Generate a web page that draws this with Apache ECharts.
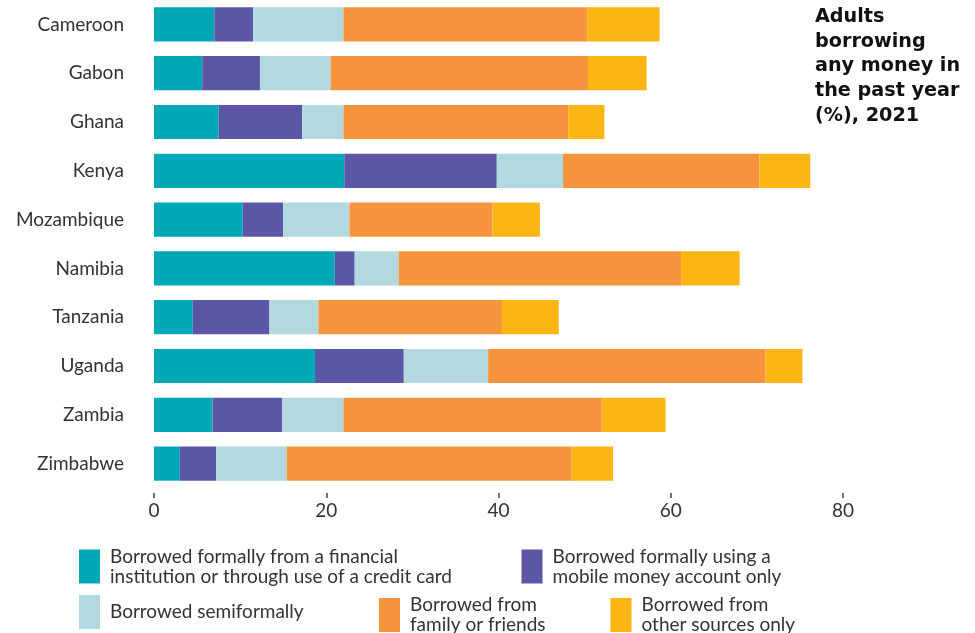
<!DOCTYPE html>
<html>
<head>
<meta charset="utf-8">
<script src="https://cdn.jsdelivr.net/npm/echarts@6/dist/echarts.min.js"></script>
<style>html,body{margin:0;padding:0;background:#fff;}#c{width:975px;height:633px;}</style>
</head>
<body>
<div id="c"></div>
<script>
const countries = ['Cameroon','Gabon','Ghana','Kenya','Mozambique','Namibia','Tanzania','Uganda','Zambia','Zimbabwe'];
const formalFinancial = [7.0, 5.6, 7.5, 22.1, 10.3, 21.0, 4.5, 18.7, 6.8, 3.0];
const formalMobile    = [4.5, 6.7, 9.7, 17.7, 4.7, 2.3, 8.9, 10.3, 8.1, 4.2];
const semiformal      = [10.5, 8.2, 4.8, 7.7, 7.7, 5.1, 5.7, 9.8, 7.1, 8.2];
const familyFriends   = [28.3, 29.9, 26.1, 22.8, 16.6, 32.8, 21.3, 32.2, 30.0, 33.1];
const otherSources    = [8.4, 6.8, 4.2, 5.9, 5.5, 6.8, 6.6, 4.3, 7.4, 4.8];
const xTicks = [0, 20, 40, 60, 80];

const seriesNames = ['Borrowed formally from a financial\ninstitution or through use of a credit card',
  'Borrowed formally using a\nmobile money account only',
  'Borrowed semiformally',
  'Borrowed from\nfamily or friends',
  'Borrowed from\nother sources only'];
const seriesData = [formalFinancial, formalMobile, semiformal, familyFriends, otherSources];
const colors = ['#00a8b5', '#5b56a5', '#b2d9e0', '#f5943d', '#fbb616'];

const legendPos = [[79, 546.5], [521.5, 546.5], [79, 595], [379, 595], [610.5, 595]];

const chart = echarts.init(document.getElementById('c'), null, {renderer: 'canvas'});
const font = 'Lato, "Noto Sans", sans-serif';
chart.setOption({
  animation: false,
  backgroundColor: '#fff',
  title: {
    text: 'Adults\nborrowing\nany money in\nthe past year\n(%), 2021',
    left: 815, top: 4.5, padding: 0,
    textStyle: {fontFamily: '"DejaVu Sans", sans-serif', fontWeight: 700, fontSize: 19.2, lineHeight: 24.75, color: '#111'}
  },
  grid: {left: 154, right: 132, top: 0, bottom: 145, containLabel: false},
  xAxis: {
    type: 'value', min: 0, max: 80, interval: 20, offset: 5,
    axisLine: {show: false},
    axisTick: {show: true, length: 5, lineStyle: {color: '#444', width: 1.5}},
    splitLine: {show: false},
    axisLabel: {margin: 8.5, fontFamily: font, fontSize: 19, color: '#333',
      formatter: v => xTicks.includes(v) ? String(v) : ''}
  },
  yAxis: {
    type: 'category', data: countries, inverse: true,
    axisLine: {show: false}, axisTick: {show: false},
    axisLabel: {margin: 30, fontFamily: font, fontSize: 19, color: '#333'}
  },
  legend: seriesNames.map((n, i) => ({
    data: [n], left: legendPos[i][0], top: legendPos[i][1], padding: 0,
    itemWidth: 21, itemHeight: 34, itemGap: 0, icon: 'rect',
    selectedMode: false,
    textStyle: {fontFamily: font, fontSize: 19, lineHeight: 20, color: '#333', padding: [0, 0, 0, 5]}
  })),
  series: seriesNames.map((n, i) => ({
    name: n, type: 'bar', stack: 'total', data: seriesData[i],
    barCategoryGap: '30%',
    itemStyle: {color: colors[i]},
    emphasis: {disabled: true}
  }))
});
</script>
</body>
</html>
